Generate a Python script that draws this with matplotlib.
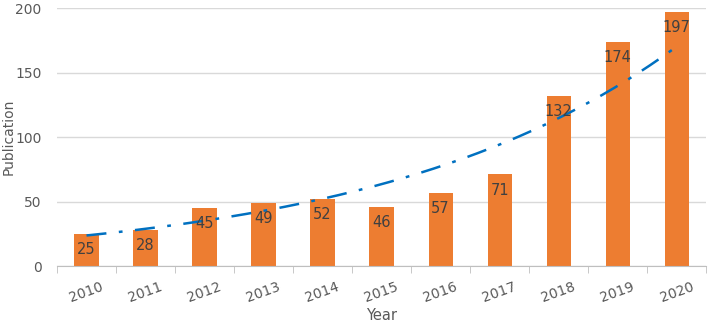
import numpy as np
import matplotlib.pyplot as plt

years = ['2010', '2011', '2012', '2013', '2014', '2015', '2016', '2017', '2018', '2019', '2020']
publications = [25, 28, 45, 49, 52, 46, 57, 71, 132, 174, 197]

bar_color = '#ED7D31'
trend_color = '#0070C0'
text_color = '#595959'

x = np.arange(len(years))
y = np.array(publications)

# exponential trendline like excel: fit log(y) = a + b*x
b, a = np.polyfit(x, np.log(y), 1)
xt = np.linspace(0, len(years) - 1, 200)
yt = np.exp(a + b * xt)

fig = plt.figure(figsize=(7.09, 3.25), dpi=100)
ax = fig.add_axes([0.0804, 0.1815, 0.9156, 0.7935])

bars = ax.bar(x, y, width=0.41, color=bar_color, zorder=2)
ax.plot(xt, yt, color=trend_color, lw=1.8, dashes=(8, 5, 1.5, 5), zorder=3)

for xi, v in zip(x, y):
    ax.text(xi, v - 16 * 200 / 258, str(v), ha='center', va='center',
            fontsize=10.5, color='#404040', zorder=4)

ax.set_xlim(-0.5, len(years) - 0.5)
ax.set_ylim(0, 200)
ax.set_yticks([0, 50, 100, 150, 200])
ax.grid(axis='y', color='#D9D9D9', lw=1, zorder=0)
ax.set_axisbelow(True)

ax.set_xticks(x)
ax.set_xticklabels(years, rotation=20, fontsize=10, color=text_color)
ax.set_xticks(np.arange(-0.5, len(years), 1), minor=True)
ax.tick_params(axis='x', which='major', length=0, pad=10)
ax.tick_params(axis='x', which='minor', length=5, color='#BFBFBF')
ax.tick_params(axis='y', length=0, labelsize=10, labelcolor=text_color, pad=11)

for s in ['top', 'right', 'left']:
    ax.spines[s].set_visible(False)
ax.spines['bottom'].set_color('#BFBFBF')

ax.set_xlabel('Year', fontsize=10.5, color=text_color, labelpad=2)
ax.set_ylabel('Publication', fontsize=10, color=text_color, va='center')
ax.yaxis.set_label_coords(-0.074, 0.5)

fig.savefig('out.png', dpi=100)
